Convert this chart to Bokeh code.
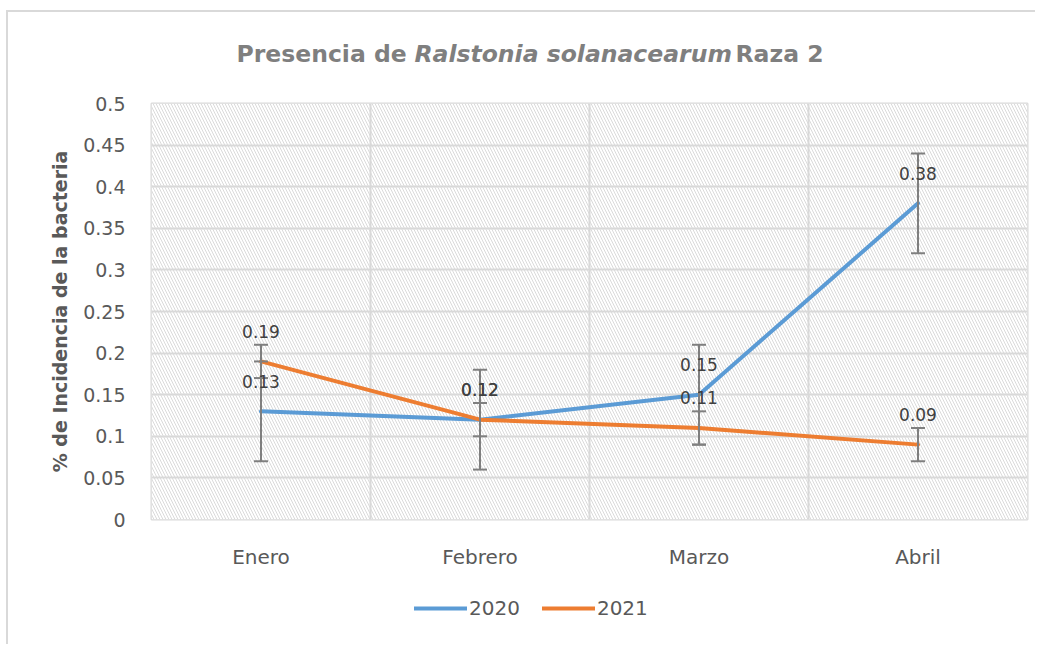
import numpy as np
from bokeh.plotting import figure
from bokeh.layouts import column
from bokeh.models import (ColumnDataSource, FixedTicker, Whisker, TeeHead, LabelSet,
                          Label, BoxAnnotation, Legend, LegendItem)
from bokeh.core.properties import value
from bokeh.embed import file_html
from bokeh.resources import INLINE

# ---------------- data ----------------
months = ["Enero", "Febrero", "Marzo", "Abril"]
series_names = ["2020", "2021"]
y2020 = [0.13, 0.12, 0.15, 0.38]
y2021 = [0.19, 0.12, 0.11, 0.09]
err2020 = [0.06, 0.06, 0.06, 0.06]
err2021 = [0.02, 0.02, 0.02, 0.02]
labels2020 = ["0.13", "0.12", "0.15", "0.38"]
labels2021 = ["0.19", "0.12", "0.11", "0.09"]
y_ticks = [0, 0.05, 0.1, 0.15, 0.2, 0.25, 0.3, 0.35, 0.4, 0.45, 0.5]
y_tick_labels = ["0", "0.05", "0.1", "0.15", "0.2", "0.25", "0.3", "0.35", "0.4", "0.45", "0.5"]
title_parts = ["Presencia de", "Ralstonia solanacearum", "Raza 2"]
y_label = "% de Incidencia de la bacteria"

FONT = "DejaVu Sans"
BLUE = "#5B9BD5"
ORANGE = "#ED7D31"
GRID = "#d9d9d9"
TICK_TXT = "#595959"
ERR = "#7f7f7f"

n = len(months)
x = np.arange(n) + 0.5

p = figure(frame_width=876, frame_height=416, x_range=(0, n), y_range=(0, y_ticks[-1]),
           output_backend="svg", toolbar_location=None,
           min_border_left=151, min_border_right=8, min_border_top=103, min_border_bottom=55,
           background_fill_color="white", border_fill_color=None, border_fill_alpha=0,
           outline_line_color=GRID, outline_line_width=2)
# chart-area border (top and left edges visible in the reference)
p.styles = {"box-shadow": "inset 6px 0 0 0 #ffffff, inset 0 10px 0 0 #ffffff, "
                          "inset 8px 0 0 0 #d9d9d9, inset 0 12px 0 0 #d9d9d9"}

# hatched plot area
p.add_layout(BoxAnnotation(fill_color="white", fill_alpha=1.0, hatch_pattern="\\",
                           hatch_color="#dadada", hatch_scale=6, hatch_weight=1,
                           line_alpha=0, level="image"))

# grids
p.xgrid.ticker = FixedTicker(ticks=list(range(n + 1)))
p.ygrid.ticker = FixedTicker(ticks=y_ticks)
for g in (p.xgrid, p.ygrid):
    g.grid_line_color = GRID
    g.grid_line_width = 2

# axes
p.xaxis.ticker = FixedTicker(ticks=list(x))
p.xaxis.major_label_overrides = {float(xi): m for xi, m in zip(x, months)}
p.yaxis.ticker = FixedTicker(ticks=y_ticks)
p.yaxis.major_label_overrides = {t: l for t, l in zip(y_ticks, y_tick_labels)}
for ax in (p.xaxis, p.yaxis):
    ax.axis_line_color = None
    ax.major_tick_line_color = None
    ax.minor_tick_line_color = None
    ax.major_tick_out = 0
    ax.major_tick_in = 0
    ax.major_label_text_font = FONT
    ax.major_label_text_color = TICK_TXT
p.yaxis.major_label_text_font_size = "19px"
p.xaxis.major_label_text_font_size = "20px"
p.xaxis.major_label_standoff = 25
p.yaxis.major_label_standoff = 26
p.yaxis.axis_label = y_label
p.yaxis.axis_label_text_font = FONT
p.yaxis.axis_label_text_font_size = "19px"
p.yaxis.axis_label_text_font_style = "bold"
p.yaxis.axis_label_text_color = TICK_TXT
p.yaxis.axis_label_standoff = 9

# lines
line_style = dict(line_width=4, line_join="round", line_cap="round")
r20 = p.line(x, y2020, line_color=BLUE, **line_style)
r21 = p.line(x, y2021, line_color=ORANGE, **line_style)

# error bars
for yv, ev in ((y2020, err2020), (y2021, err2021)):
    yv = np.array(yv)
    ev = np.array(ev)
    src = ColumnDataSource(dict(x=x, lower=yv - ev, upper=yv + ev))
    w = Whisker(base="x", lower="lower", upper="upper", source=src,
                line_color=ERR, line_width=2, level="annotation",
                upper_head=TeeHead(size=14, line_color=ERR, line_width=2),
                lower_head=TeeHead(size=14, line_color=ERR, line_width=2))
    p.add_layout(w)

# data labels
for yv, lab in ((y2020, labels2020), (y2021, labels2021)):
    src = ColumnDataSource(dict(x=x, y=yv, t=lab))
    p.add_layout(LabelSet(x="x", y="y", text="t", source=src, y_offset=30,
                          text_align="center", text_baseline="middle",
                          text_font=value(FONT), text_font_size="17px",
                          text_color="#404040"))

# title (mixed style), placed in the top panel
title_x = [85, 263, 584]
title_styles = ["bold", "bold italic", "bold"]
for tx, part, st in zip(title_x, title_parts, title_styles):
    p.add_layout(Label(x=tx, y=0.56, x_units="screen", y_units="data", text=part,
                       text_font=FONT, text_font_size="23.5px", text_font_style=st,
                       text_color="#7f7f7f", text_baseline="middle", text_align="left"),
                 "above")

# ---------------- legend strip below the chart ----------------
lf = figure(frame_width=876, frame_height=70, x_range=(0, 1), y_range=(0, 1),
            x_axis_type=None, y_axis_type=None, output_backend="svg", toolbar_location=None,
            min_border_left=151, min_border_right=8, min_border_top=0, min_border_bottom=0,
            background_fill_color=None, border_fill_color=None, border_fill_alpha=0,
            outline_line_color=None)
lf.xgrid.visible = False
lf.ygrid.visible = False
lf.styles = {"box-shadow": "inset 6px 0 0 0 #ffffff, inset 8px 0 0 0 #d9d9d9"}
# legend proxies carrying the series styles (a single missing point, nothing drawn)
k20 = lf.line([np.nan], [np.nan], line_color=BLUE, **line_style)
k21 = lf.line([np.nan], [np.nan], line_color=ORANGE, **line_style)
legend = Legend(items=[LegendItem(label=series_names[0], renderers=[k20]),
                       LegendItem(label=series_names[1], renderers=[k21])],
                orientation="horizontal", location=(263, 24),
                label_text_font=FONT, label_text_font_size="20px",
                label_text_color=TICK_TXT, glyph_width=53, glyph_height=20,
                label_height=20, label_standoff=2, spacing=22, padding=0, margin=0,
                border_line_color=None, background_fill_alpha=0)
lf.add_layout(legend)

layout = column(p, lf, spacing=0)
open("out.html", "w").write(file_html(layout, INLINE))
